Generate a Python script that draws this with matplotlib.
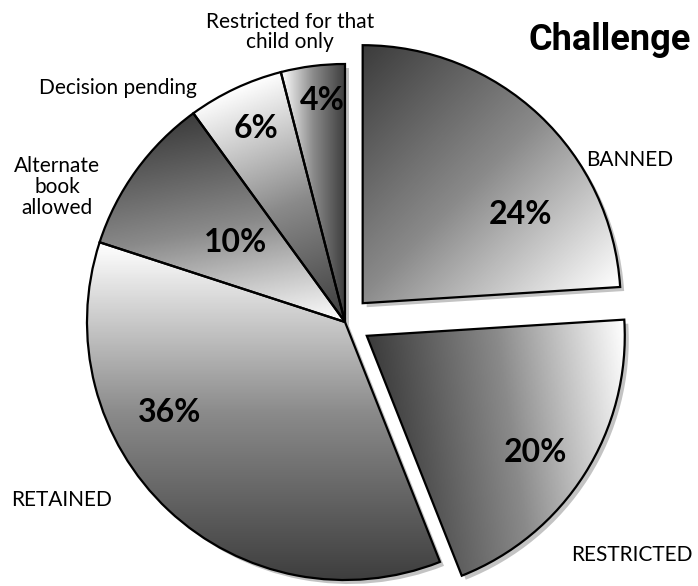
import matplotlib.pyplot as plt
import numpy as np
from matplotlib.colors import LinearSegmentedColormap
from matplotlib.patches import Wedge

# data
labels = ['BANNED', 'RESTRICTED', 'RETAINED', 'Alternate\nbook\nallowed',
          'Decision pending', 'Restricted for that\nchild only']
values = [24, 20, 36, 10, 6, 4]
pct_text = ['24%', '20%', '36%', '10%', '6%', '4%']
explode = [0.1, 0.1, 0, 0, 0, 0]

# gradient direction (towards light side) for each slice
grad_dir = [(1, -1), (1, 0.15), (0, 1), (0.2, -1), (-0.4, 1), (-1, 0)]

# positions in pixels (x, y from top)
label_pos = [(630, 160), (632, 555), (62, 500), (57, 187), (118, 88), (290, 32)]
pct_pos = [(520, 215), (535, 452), (170, 413), (236, 243), (256, 128), (322, 100)]

W, H = 698, 586
R = 258
fig = plt.figure(figsize=(W / 100, H / 100), dpi=100)
ax = fig.add_axes([0, 0, 1, 1])

cmap = LinearSegmentedColormap.from_list('g', ['#3c3c3c', '#8a8a8a', '#ffffff'])

wedges, _ = ax.pie(values, explode=[e * R for e in explode], startangle=90, counterclock=False,
                   center=(345, H - 322), radius=R,
                   wedgeprops=dict(edgecolor='black', linewidth=1.6, facecolor='none', zorder=3))

for w, d in zip(wedges, grad_dir):
    # drop shadow
    sh = Wedge((w.center[0] + 4, w.center[1] - 4), w.r, w.theta1, w.theta2,
               facecolor='#555555', edgecolor='none', alpha=0.35, zorder=1)
    ax.add_patch(sh)
    v = w.get_path().vertices
    x0, x1 = v[:, 0].min(), v[:, 0].max()
    y0, y1 = v[:, 1].min(), v[:, 1].max()
    xx, yy = np.meshgrid(np.linspace(x0, x1, 200), np.linspace(y0, y1, 200))
    d = np.array(d, dtype=float)
    d = d / np.hypot(*d)
    p = xx * d[0] + yy * d[1]
    pv = v[:, 0] * d[0] + v[:, 1] * d[1]
    t = np.clip((p - pv.min()) / (pv.max() - pv.min()), 0, 1)
    im = ax.imshow(t, extent=[x0, x1, y0, y1], origin='lower', cmap=cmap,
                   vmin=0, vmax=1, zorder=2, interpolation='bilinear')
    im.set_clip_path(w)

ax.set_xlim(0, W)
ax.set_ylim(0, H)
ax.set_aspect('equal')
ax.axis('off')

for lab, (x, y) in zip(labels, label_pos):
    ax.text(x, H - y, lab, ha='center', va='center', fontsize=15,
            family='Lato', linespacing=1.05, zorder=5)

for pt, (x, y) in zip(pct_text, pct_pos):
    ax.text(x, H - y, pt, ha='center', va='center', fontsize=23,
            family='Lato', fontweight='bold', zorder=5)

ax.text(529, H - 40, 'Challenge', ha='left', va='center', fontsize=26,
        family='Roboto', fontweight='bold')

plt.savefig('out.png', dpi=100)
